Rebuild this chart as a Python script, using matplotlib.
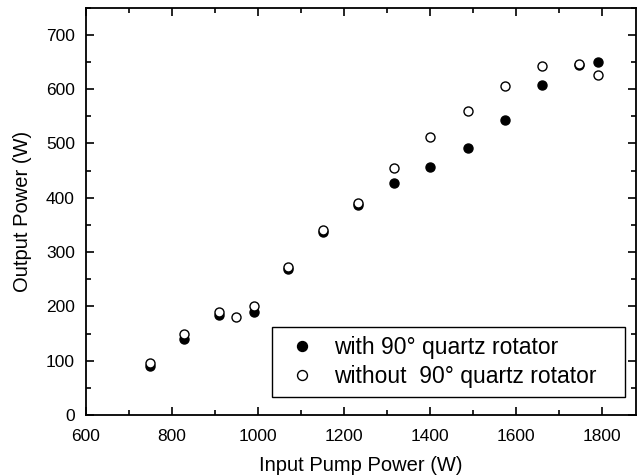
import matplotlib
matplotlib.use('Agg')
import matplotlib.pyplot as plt
from matplotlib.ticker import MultipleLocator

plt.rcParams['font.family'] = ['Liberation Sans', 'DejaVu Sans']

# with 90 deg quartz rotator (filled)
pump_with = [750, 828, 910, 990, 1070, 1152, 1234, 1316, 1401, 1488, 1574, 1661, 1748, 1792]
out_with = [90, 140, 184, 190, 268, 336, 386, 427, 457, 491, 543, 608, 645, 649]

# without rotator (open)
pump_without = [750, 828, 910, 950, 990, 1070, 1152, 1234, 1316, 1401, 1488, 1574, 1661, 1748, 1792]
out_without = [95, 150, 190, 181, 200, 273, 340, 391, 454, 511, 560, 605, 642, 646, 626]

fig = plt.figure(figsize=(6.37, 4.76), dpi=100)
ax = fig.add_axes([86 / 637, 1 - 415 / 476, 550 / 637, 407.5 / 476])

ax.plot(pump_with, out_with, 'o', ms=6.5, color='black', mec='black',
        label='with 90° quartz rotator   ', zorder=3)
ax.plot(pump_without, out_without, 'o', ms=6.5, mfc='white', mec='black', mew=1.0,
        label='without  90° quartz rotator   ', zorder=4)

ax.set_xlim(600, 1880)
ax.set_ylim(0, 750)
ax.xaxis.set_major_locator(MultipleLocator(200))
ax.xaxis.set_minor_locator(MultipleLocator(100))
ax.yaxis.set_major_locator(MultipleLocator(100))
ax.yaxis.set_minor_locator(MultipleLocator(50))
ax.tick_params(which='both', direction='in', top=True, right=True, labelsize=12.5, width=1.2)
ax.tick_params(which='major', length=6)
ax.tick_params(which='minor', length=3.5)
ax.tick_params(axis='x', pad=10)
ax.tick_params(axis='y', pad=8)
for s in ax.spines.values():
    s.set_linewidth(1.3)

ax.set_xlabel('Input Pump Power (W)', fontsize=14.5, labelpad=9)
ax.set_ylabel('Output Power (W)', fontsize=14.5, labelpad=10)

leg = ax.legend(loc='lower right', bbox_to_anchor=(0.98, 0.044), borderaxespad=0,
                fontsize=16.5, frameon=True, fancybox=False, edgecolor='black',
                framealpha=1, handletextpad=0.5, borderpad=0.4, labelspacing=0.25,
                handlelength=1.8, markerscale=1.1)
leg.get_frame().set_linewidth(1.0)

fig.savefig('out.png', dpi=100)
